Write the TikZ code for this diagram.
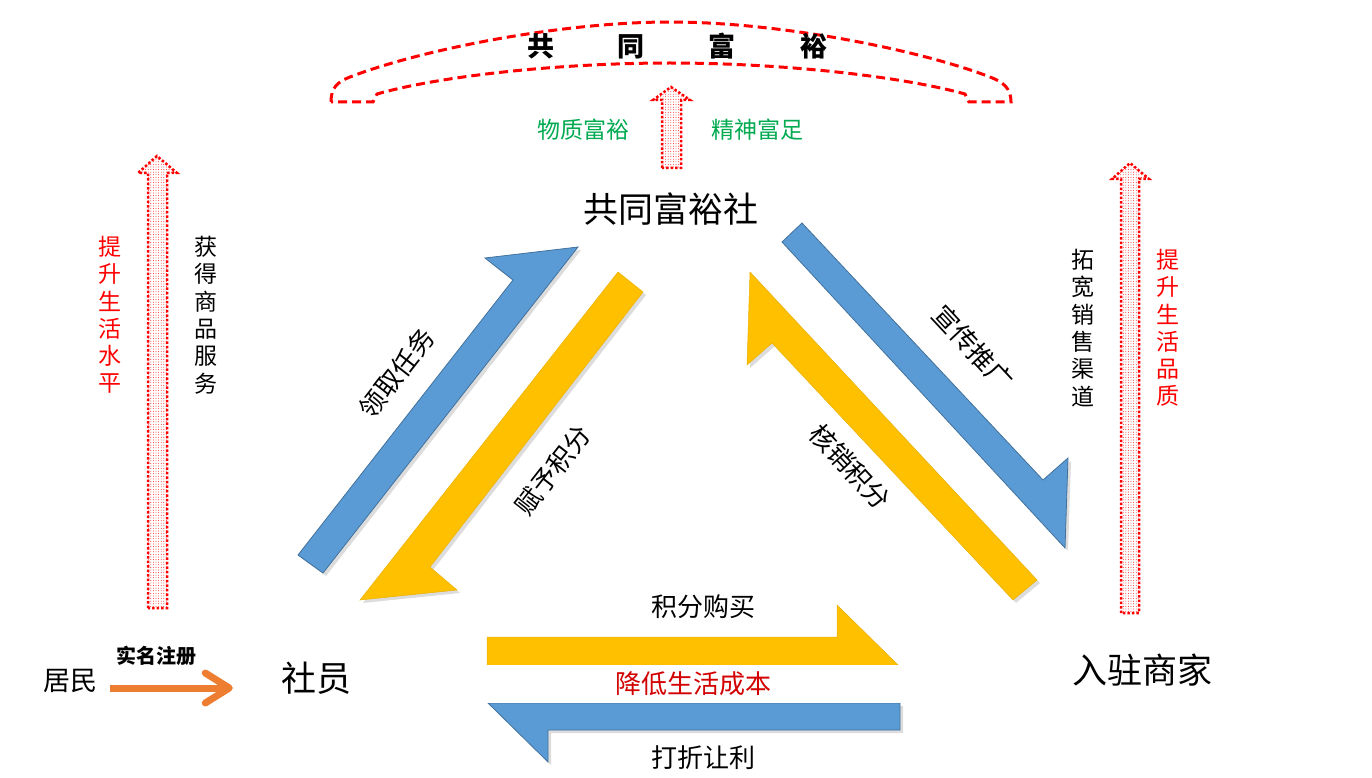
\documentclass[tikz,border=0pt]{standalone}
\usepackage{fontspec}
\newfontfamily\cjk{Noto Sans CJK SC}
\usetikzlibrary{arrows.meta,shadows,patterns.meta}
\definecolor{ablue}{HTML}{5B9BD5}
\definecolor{ablueedge}{HTML}{41719C}
\definecolor{ayellow}{HTML}{FFC000}
\definecolor{agreen}{RGB}{0,170,80}
\definecolor{adred}{RGB}{210,0,0}
\definecolor{aorange}{HTML}{ED7D31}
\tikzset{
  lbl/.style={inner sep=0pt, text=black},
  big/.style={lbl, font=\cjk\fontsize{35}{40}\selectfont},
  mid/.style={lbl, font=\cjk\fontsize{26}{30}\selectfont},
  small/.style={lbl, font=\cjk\fontsize{23}{27}\selectfont},
  vtxt/.style={lbl, align=center, font=\cjk\fontsize{23}{27.3}\selectfont},
  bluearrow/.style={fill=ablue, draw=ablueedge, line width=0.8pt,
    drop shadow={opacity=0.28, shadow xshift=3pt, shadow yshift=-3pt}},
  yellowarrow/.style={fill=ayellow, draw=ayellow!92!black, line width=0.5pt,
    drop shadow={opacity=0.28, shadow xshift=3pt, shadow yshift=-3pt}},
  dotarrow/.style={draw=red, line width=2.5pt, dash pattern=on 2.5pt off 2pt,
    pattern={Dots[radius=0.45pt,distance=2.6pt]}, pattern color=red},
  banner/.style={draw=red, line width=3pt, dash pattern=on 9pt off 5pt},
  regarrow/.style={draw=aorange, line width=7pt,
    -{Straight Barb[length=24pt,width=30pt,round]}}
}
\begin{document}
\begin{tikzpicture}[x=1pt,y=-1pt]
\useasboundingbox (0,0) rectangle (1372,778);

% top banner
\draw[banner] (331,102) .. controls (331,88) and (337,82) .. (350,77)
  .. controls (420,50) and (560,22) .. (670,22)
  .. controls (780,22) and (920,50) .. (990,77)
  .. controls (1003,82) and (1011,88) .. (1011,102)
  -- (969,102) -- (965,94)
  .. controls (900,76) and (780,63) .. (670,63)
  .. controls (560,63) and (440,76) .. (377,94)
  -- (373,102) -- cycle;
\node[lbl, font=\cjk\bfseries\fontsize{27}{30}\selectfont] (title) at (677,46)
  {共\hspace{64pt}同\hspace{64pt}富\hspace{64pt}裕};

% dotted up arrows
\path[dotarrow] (662,168) -- (662,100) -- (653,100) -- (671,87) -- (690,100)
  -- (681,100) -- (681,168) -- cycle;
\path[dotarrow] (148,608) -- (148,173) -- (138,173) -- (157,156) -- (177,173)
  -- (167,173) -- (167,608) -- cycle;
\path[dotarrow] (1121,613) -- (1121,179) -- (1112,179) -- (1130,163) -- (1149,179)
  -- (1139,179) -- (1139,613) -- cycle;

\node[small, text=agreen] (wz) at (583,130) {物质富裕};
\node[small, text=agreen] (js) at (757,130) {精神富足};

\node[vtxt, text=red] (ts1) at (110,315) {提\\升\\生\\活\\水\\平};
\node[vtxt] (hd) at (206,315) {获\\得\\商\\品\\服\\务};
\node[vtxt] (tk) at (1083,328) {拓\\宽\\销\\售\\渠\\道};
\node[vtxt, text=red] (ts2) at (1168,328) {提\\升\\生\\活\\品\\质};

% main labels
\node[big] (she) at (671,209) {共同富裕社};
\node[big] (sy) at (316,678) {社员};
\node[big] (rz) at (1142,670) {入驻商家};
\node[lbl, font=\cjk\fontsize{27}{30}\selectfont] (jm) at (70,681) {居民};
\node[lbl, font=\cjk\bfseries\fontsize{20}{24}\selectfont] (smzc) at (156,656) {实名注册};

\coordinate (as) at ([xshift=13pt,yshift=-7pt]jm.east);
\coordinate (ae) at (as -| sy.west);
\draw[regarrow] (as) -- ([xshift=-48pt]ae);

% left pair
\filldraw[bluearrow] (298,555) -- (513,280) -- (485,258) -- (578,247) -- (323,573) -- cycle;
\filldraw[yellowarrow] (618,272) -- (643,292) -- (430,567) -- (457,590) -- (360,600) -- cycle;
\node[mid, rotate=52] (lq) at (397,373) {领取任务};
\node[mid, rotate=52] (fy) at (553,470) {赋予积分};

% right pair
\filldraw[bluearrow] (782,242) -- (802,223) -- (1043,480) -- (1068,458) -- (1065,548) -- cycle;
\filldraw[yellowarrow] (750,272) -- (1037,580) -- (1013,600) -- (772,343) -- (747,365) -- cycle;
\node[mid, rotate=-47] (xc) at (973,348) {宣传推广};
\node[mid, rotate=-47] (hx) at (850,467) {核销积分};

% bottom pair
\filldraw[yellowarrow] (487,637) -- (837,637) -- (837,605) -- (898,665) -- (487,665) -- cycle;
\filldraw[bluearrow] (900,703) -- (900,730) -- (548,730) -- (548,762) -- (488,703) -- cycle;
\node[lbl, fill=white, minimum width=413pt, minimum height=38pt,
  font=\cjk\fontsize{26}{30}\selectfont, text=adred] (jd) at (693,684) {降低生活成本};
\node[mid] (jf) at (703,607) {积分购买};
\node[mid] (dz) at (703,758) {打折让利};
\end{tikzpicture}
\end{document}
